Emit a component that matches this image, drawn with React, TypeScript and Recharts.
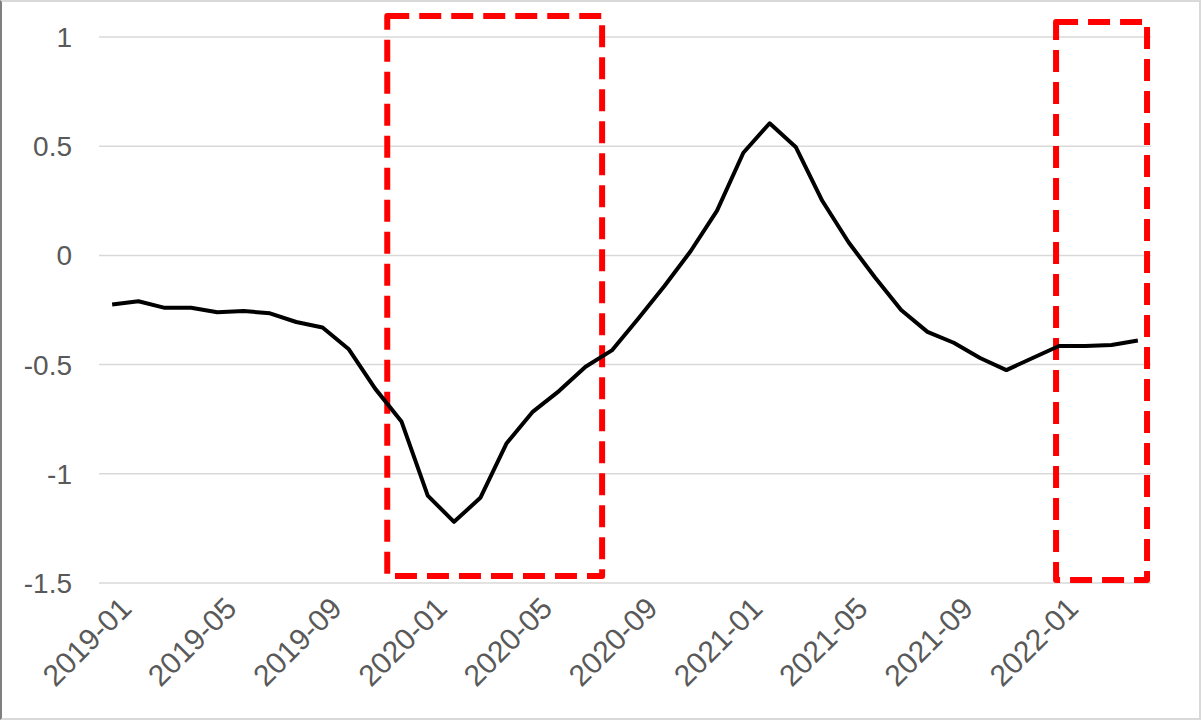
import React from "react";
import {
  LineChart,
  Line,
  XAxis,
  YAxis,
  CartesianGrid,
  ReferenceArea,
} from "recharts";

const months: string[] = [
  "2019-01", "2019-02", "2019-03", "2019-04", "2019-05", "2019-06", "2019-07", "2019-08",
  "2019-09", "2019-10", "2019-11", "2019-12", "2020-01", "2020-02", "2020-03", "2020-04",
  "2020-05", "2020-06", "2020-07", "2020-08", "2020-09", "2020-10", "2020-11", "2020-12",
  "2021-01", "2021-02", "2021-03", "2021-04", "2021-05", "2021-06", "2021-07", "2021-08",
  "2021-09", "2021-10", "2021-11", "2021-12", "2022-01", "2022-02", "2022-03", "2022-04",
];

const values: number[] = [
  -0.225, -0.21, -0.24, -0.24, -0.26, -0.255, -0.265, -0.305,
  -0.33, -0.43, -0.61, -0.76, -1.1, -1.22, -1.11, -0.86,
  -0.715, -0.62, -0.51, -0.435, -0.29, -0.14, 0.02, 0.205,
  0.47, 0.605, 0.495, 0.25, 0.06, -0.1, -0.25, -0.35,
  -0.4, -0.47, -0.525, -0.47, -0.415, -0.415, -0.41, -0.39,
];

const xTicks: number[] = [0, 4, 8, 12, 16, 20, 24, 28, 32, 36];
const yTicks: number[] = [-1.5, -1, -0.5, 0, 0.5, 1];

// highlight boxes (in month-index / value units)
const box1 = { x1: 10.46, x2: 18.63, y1: -1.468, y2: 1.096 };
const box2 = { x1: 35.89, x2: 39.35, y1: -1.486, y2: 1.069 };

const data = months.map((m, i) => ({ idx: i, month: m, value: values[i] }));

const FONT = "'Liberation Sans', Arial, sans-serif";
const TEXT = "#595959";

const XTick = (props: any) => {
  const { x, y, payload } = props;
  return (
    <g transform={`translate(${x + 6},${y - 2})`}>
      <text
        x={0}
        y={0}
        dy="0.71em"
        textAnchor="end"
        fill={TEXT}
        fontSize={30}
        fontFamily={FONT}
        transform="rotate(-45)"
      >
        {months[payload.value]}
      </text>
    </g>
  );
};

export default function App() {
  return (
    <div style={{ position: "absolute", left: 0, top: 0, width: 1201, height: 720, background: "#fff" }}>
      <LineChart
        width={1201}
        height={720}
        data={data}
        margin={{ top: 37, right: 50, bottom: 0, left: 0 }}
      >
        <CartesianGrid vertical={false} stroke="#d9d9d9" strokeWidth={1.5} />
        <XAxis
          dataKey="idx"
          type="number"
          domain={[-0.5, 39.5]}
          ticks={xTicks}
          interval={0}
          height={137}
          axisLine={false}
          tickLine={false}
          tickSize={0}
          tickMargin={14}
          tick={<XTick />}
        />
        <YAxis
          domain={[-1.5, 1]}
          ticks={yTicks}
          width={99}
          axisLine={false}
          tickLine={false}
          tickSize={0}
          tickMargin={27}
          tick={{ fill: TEXT, fontSize: 28, fontFamily: FONT }}
        />
        <Line
          type="linear"
          dataKey="value"
          stroke="#000"
          strokeWidth={4}
          strokeLinejoin="round"
          dot={false}
          activeDot={false}
          isAnimationActive={false}
        />
        <ReferenceArea
          x1={box1.x1}
          x2={box1.x2}
          y1={box1.y1}
          y2={box1.y2}
          ifOverflow="visible"
          fill="none"
          fillOpacity={0}
          stroke="#ff0000"
          strokeWidth={6}
          strokeDasharray="22 10"
          strokeLinejoin="round"
        />
        <ReferenceArea
          x1={box2.x1}
          x2={box2.x2}
          y1={box2.y1}
          y2={box2.y2}
          ifOverflow="visible"
          fill="none"
          fillOpacity={0}
          stroke="#ff0000"
          strokeWidth={6}
          strokeDasharray="22 10"
          strokeLinejoin="round"
        />
      </LineChart>
      <div
        style={{
          position: "absolute",
          left: 0,
          top: 0,
          width: 1201,
          height: 720,
          boxSizing: "border-box",
          border: "2px solid #d9d9d9",
          borderLeft: "2px solid #7f7f7f",
          pointerEvents: "none",
        }}
      />
    </div>
  );
}
